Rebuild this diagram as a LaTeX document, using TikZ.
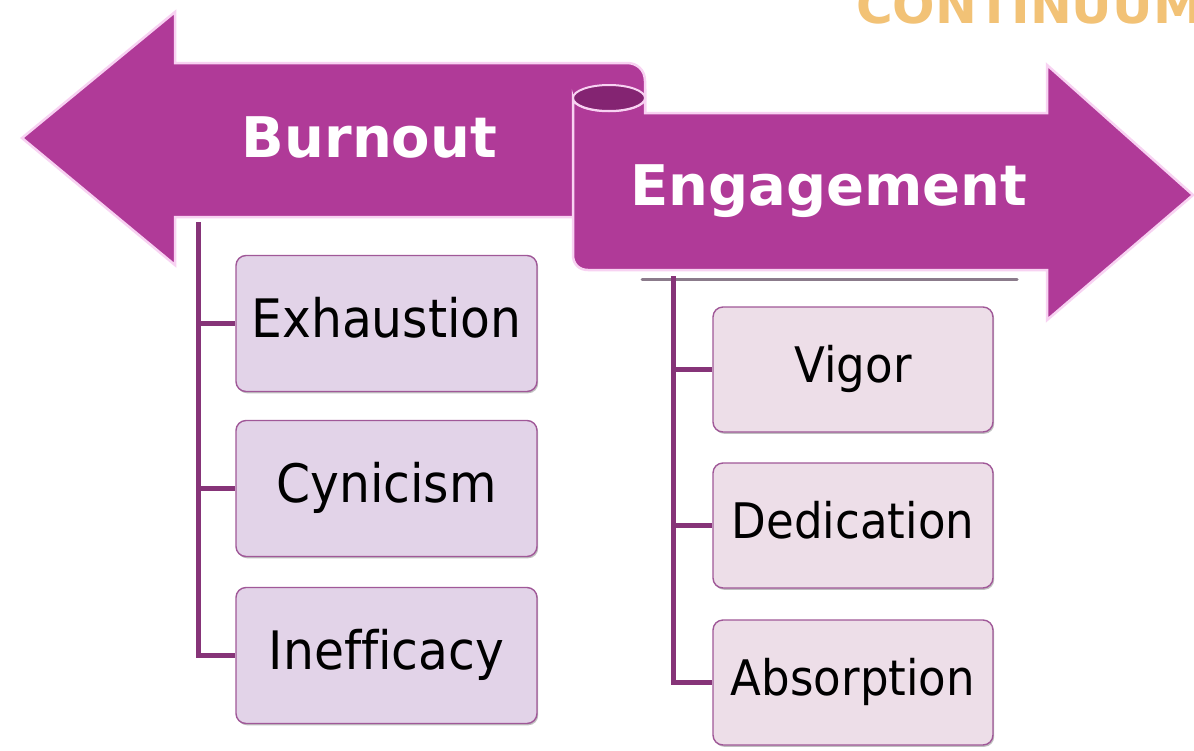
\documentclass[tikz,border=0pt]{standalone}
\usepackage{fontspec}
\setmainfont{DejaVu Sans}
\newfontfamily\boxfont[FakeStretch=0.92,Ligatures=NoCommon]{DejaVu Sans}
\usetikzlibrary{shadows}
\definecolor{arrowfill}{RGB}{176,58,152}
\definecolor{arrowdark}{RGB}{132,36,114}
\definecolor{glow}{RGB}{248,210,242}
\definecolor{leftbox}{RGB}{226,211,232}
\definecolor{rightbox}{RGB}{237,222,232}
\definecolor{boxline}{RGB}{160,88,152}
\definecolor{conncol}{RGB}{134,52,120}
\definecolor{contcol}{RGB}{242,194,118}
\definecolor{shadowcol}{RGB}{110,90,110}
\begin{document}
\begin{tikzpicture}[x=1pt,y=-1pt,
  banner/.style={fill=arrowfill, draw=glow, line width=2.5pt, line join=miter},
  itembox/.style={rounded corners=10pt, draw=boxline, line width=1.4pt, inner sep=0pt,
    drop shadow={shadow xshift=1.2pt, shadow yshift=-1.8pt, opacity=0.35, fill=black!70}},
  leftitem/.style={itembox, fill=leftbox, minimum width=301pt, minimum height=136pt,
    font=\boxfont\fontsize{53}{58}\selectfont, text height=40pt, text depth=12pt},
  rightitem/.style={itembox, fill=rightbox, minimum width=280pt, minimum height=125pt,
    font=\boxfont\fontsize{49}{54}\selectfont, text height=36pt, text depth=10pt},
  conn/.style={draw=conncol, line width=5pt},
  bigtitle/.style={text=white, font=\bfseries\fontsize{56}{60}\selectfont, inner sep=0pt, anchor=base},
]
\useasboundingbox (0,0) rectangle (1194,750);
\fill[white] (0,0) rectangle (1194,750);

% title fragment (cut off at the top edge, as in the reference)
\node[text=contcol, font=\bfseries\fontsize{50}{54}\selectfont, inner sep=0pt, anchor=base east]
  (cont) at (1203,23) {CONTINUUM};

% left (Burnout) arrow with scroll end
\path[banner] (22,138) -- (175,12) -- (175,63) -- (627,63)
  .. controls (637,63) and (645,70) .. (645,81)
  -- (645,217) -- (175,217) -- (175,265) -- cycle;

% right (Engagement) arrow
\path[banner] (573,98) -- (573,255) .. controls (573,264) and (579,270) .. (588,270)
  -- (1047,270) -- (1047,320) -- (1193,195) -- (1047,65) -- (1047,113) -- (645,113) -- (645,98)
  .. controls (645,105.2) and (628.9,111) .. (609,111)
  .. controls (589.1,111) and (573,105.2) .. (573,98) -- cycle;

% inside of the roll
\path[fill=arrowdark, draw=glow, line width=2pt] (609,98) ellipse [x radius=36, y radius=13];

% shadow under the Engagement banner
\draw[shadowcol, line width=3pt, opacity=0.8, line cap=round] (642,279) -- (1017,279);

\node[bigtitle] (burnout) at (369.5,157) {Burnout};
\node[bigtitle] (engage) at (829,205) {Engagement};

% trunks
\coordinate (ltop) at (198,222);
\coordinate (rtop) at (673,276);

% boxes
\node[leftitem] (exh) at (386.5,323.5) {Exhaustion};
\node[leftitem] (cyn) at (386.5,488.5) {Cynicism};
\node[leftitem] (ineff) at (386.5,655.5) {Inefficacy};

\node[rightitem] (vig) at (853,369.5) {Vigor};
\node[rightitem] (ded) at (853,525.5) {Dedication};
\node[rightitem] (abs) at (853,682.5) {Absorption};

% connectors
\draw[conn] (ltop) |- (ineff.west);
\draw[conn] (ltop |- exh.west) -- (exh.west);
\draw[conn] (ltop |- cyn.west) -- (cyn.west);

\draw[conn] (rtop) |- (abs.west);
\draw[conn] (rtop |- vig.west) -- (vig.west);
\draw[conn] (rtop |- ded.west) -- (ded.west);
\end{tikzpicture}
\end{document}
